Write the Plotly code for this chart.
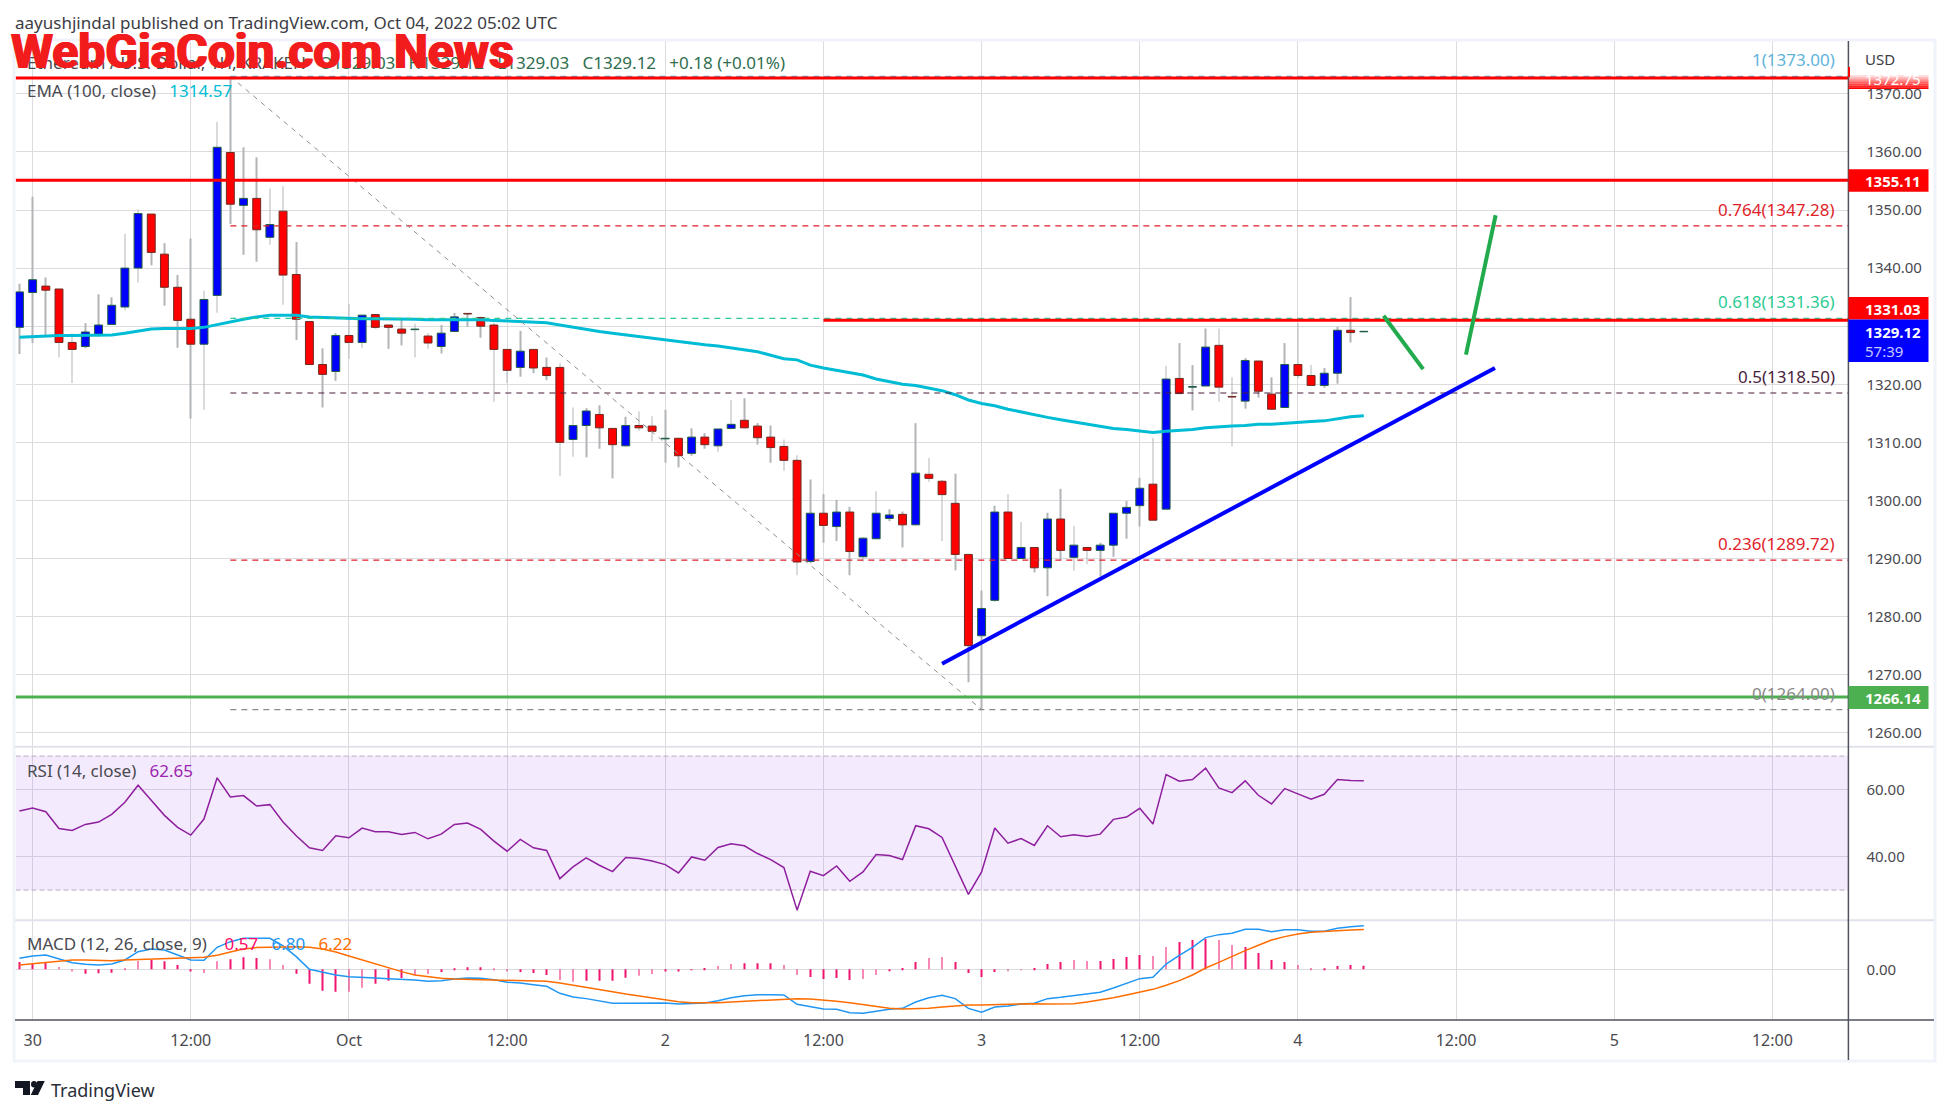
import pandas as pd
import plotly.graph_objects as go

W = 1950
H = 1115
FONT = "Noto Sans"
TXT = "#4a4a50"

# hourly bars, Sep 29 23:00 -> Oct 4 05:00
times = pd.date_range("2022-09-29 23:00", periods=103, freq="h")

opens = [1329.8, 1335.8, 1336.9, 1336.4, 1327.2, 1326.5, 1328.6, 1330.3, 1333.3, 1340.0,
         1349.3, 1342.4, 1336.7, 1331.2, 1326.9, 1335.3, 1359.9, 1350.8, 1352.0, 1345.3,
         1349.8, 1338.9, 1330.8, 1323.4, 1322.2, 1328.4, 1327.2, 1332.0, 1330.2, 1329.5,
         1329.4, 1328.3, 1326.5, 1329.1, 1332.2, 1331.5, 1330.2, 1326.0, 1322.9, 1326.0,
         1322.9, 1322.9, 1310.5, 1312.9, 1314.8, 1312.4, 1309.4, 1312.9, 1312.8, 1310.6,
         1310.7, 1308.1, 1310.9, 1309.4, 1312.4, 1313.8, 1312.8, 1310.9, 1309.3, 1306.9,
         1289.5, 1297.8, 1295.5, 1298.0, 1290.3, 1293.4, 1296.9, 1297.6, 1295.8, 1304.5,
         1303.3, 1299.5, 1290.7, 1276.7, 1282.8, 1298.0, 1290.0, 1291.9, 1288.4, 1296.8,
         1290.2, 1291.9, 1291.4, 1292.3, 1297.8, 1299.1, 1302.8, 1298.5, 1321.0, 1319.5,
         1319.7, 1326.7, 1317.9, 1317.1, 1324.0, 1318.3, 1316.0, 1323.4, 1321.5, 1319.8,
         1321.9, 1329.3, 1329.03]
highs = [1337.3, 1352.3, 1338.4, 1336.4, 1328.8, 1330.5, 1335.5, 1335.0, 1345.9, 1350.1,
         1349.3, 1344.3, 1338.8, 1345.1, 1336.1, 1365.2, 1373.0, 1360.8, 1359.1, 1353.7,
         1354.1, 1344.5, 1330.8, 1326.2, 1328.8, 1333.8, 1331.9, 1332.0, 1330.2, 1331.2,
         1330.4, 1328.8, 1330.2, 1332.3, 1332.2, 1331.6, 1330.6, 1326.0, 1329.2, 1326.0,
         1324.6, 1323.6, 1316.0, 1315.9, 1316.4, 1312.4, 1314.4, 1315.3, 1314.5, 1315.6,
         1310.7, 1312.4, 1311.6, 1312.3, 1317.3, 1317.6, 1313.3, 1312.9, 1310.5, 1307.8,
         1303.6, 1301.1, 1300.1, 1298.9, 1293.7, 1301.6, 1298.5, 1298.1, 1313.3, 1307.3,
         1303.5, 1304.6, 1290.7, 1284.5, 1299.1, 1301.1, 1296.3, 1291.9, 1297.9, 1302.0,
         1295.6, 1291.9, 1292.7, 1297.8, 1299.9, 1303.9, 1310.8, 1323.2, 1327.1, 1323.3,
         1329.6, 1329.6, 1321.2, 1324.5, 1324.0, 1321.2, 1327.1, 1330.5, 1323.3, 1322.8,
         1329.9, 1335.0, 1329.12]
lows = [1325.2, 1327.1, 1328.5, 1324.6, 1320.2, 1326.2, 1328.2, 1330.2, 1332.7, 1337.5,
        1340.5, 1333.5, 1326.3, 1314.1, 1315.6, 1332.3, 1347.6, 1342.3, 1341.1, 1344.0,
        1333.7, 1327.6, 1323.4, 1316.0, 1320.6, 1324.4, 1326.3, 1329.6, 1326.1, 1326.7,
        1324.6, 1326.1, 1325.3, 1329.0, 1329.9, 1328.0, 1317.0, 1320.2, 1321.3, 1321.9,
        1320.7, 1304.2, 1307.5, 1307.4, 1308.9, 1303.8, 1309.3, 1312.0, 1310.2, 1306.5,
        1305.7, 1307.7, 1308.9, 1308.4, 1312.2, 1312.5, 1309.6, 1306.5, 1305.1, 1287.1,
        1289.2, 1292.7, 1293.0, 1287.1, 1289.5, 1293.3, 1296.4, 1291.9, 1295.8, 1303.2,
        1293.0, 1288.0, 1268.7, 1264.0, 1282.6, 1290.0, 1289.9, 1287.6, 1283.5, 1289.8,
        1287.9, 1289.0, 1286.9, 1290.3, 1293.4, 1295.5, 1296.6, 1298.5, 1318.4, 1315.5,
        1319.7, 1317.0, 1309.3, 1315.8, 1317.7, 1315.7, 1316.0, 1321.0, 1319.8, 1319.4,
        1320.1, 1327.2, 1329.03]
closes = [1335.9, 1338.0, 1336.2, 1327.2, 1326.0, 1329.0, 1330.2, 1333.6, 1340.0, 1349.4,
          1342.7, 1336.7, 1331.0, 1326.9, 1334.6, 1360.8, 1351.0, 1352.0, 1346.6, 1347.5,
          1338.8, 1331.2, 1323.4, 1321.7, 1328.4, 1327.2, 1331.9, 1329.8, 1329.8, 1328.8,
          1329.5, 1327.1, 1328.8, 1331.6, 1332.1, 1330.0, 1326.0, 1322.4, 1325.7, 1322.8,
          1321.5, 1310.0, 1312.9, 1315.4, 1312.5, 1309.6, 1312.9, 1312.5, 1311.9, 1310.7,
          1307.7, 1310.9, 1309.6, 1312.3, 1313.1, 1312.5, 1310.8, 1309.1, 1306.9, 1289.4,
          1297.8, 1295.7, 1298.0, 1291.2, 1293.5, 1297.8, 1297.5, 1295.8, 1304.7, 1303.8,
          1301.0, 1290.7, 1275.0, 1281.4, 1298.0, 1290.0, 1291.9, 1288.4, 1296.8, 1291.4,
          1292.3, 1291.4, 1292.3, 1297.8, 1298.8, 1302.1, 1296.6, 1320.9, 1318.4, 1319.6,
          1326.4, 1319.5, 1317.8, 1324.1, 1318.8, 1315.7, 1323.4, 1321.5, 1319.8, 1321.9,
          1329.3, 1328.9, 1329.12]
ema_100 = [1328.1, 1328.2, 1328.4, 1328.4, 1328.4, 1328.4, 1328.4, 1328.5, 1328.8, 1329.1,
           1329.5, 1329.6, 1329.6, 1329.6, 1329.8, 1330.3, 1330.8, 1331.2, 1331.6, 1331.9,
           1331.9, 1331.9, 1331.6, 1331.5, 1331.5, 1331.4, 1331.3, 1331.3, 1331.3, 1331.2,
           1331.2, 1331.1, 1331.1, 1331.2, 1331.2, 1331.1, 1331.0, 1330.9, 1330.8, 1330.7,
           1330.6, 1330.2, 1329.8, 1329.5, 1329.1, 1328.8, 1328.5, 1328.2, 1328.0, 1327.7,
           1327.4, 1327.1, 1326.8, 1326.6, 1326.3, 1326.0, 1325.6, 1325.0, 1324.4, 1324.2,
           1323.3, 1322.8, 1322.4, 1321.9, 1321.6, 1320.9, 1320.5, 1320.0, 1319.8, 1319.4,
           1318.9, 1318.2, 1317.3, 1316.7, 1316.3, 1315.7, 1315.2, 1314.7, 1314.3, 1313.9,
           1313.5, 1313.1, 1312.7, 1312.4, 1312.2, 1311.9, 1311.7, 1311.9, 1312.0, 1312.2,
           1312.5, 1312.7, 1312.8, 1312.9, 1313.1, 1313.1, 1313.3, 1313.4, 1313.6, 1313.7,
           1314.1, 1314.4, 1314.57]
rsi = [53.6, 54.5, 53.4, 48.4, 47.8, 49.6, 50.3, 52.6, 56.2, 61.3,
       56.8, 52.3, 48.7, 46.4, 51.2, 63.5, 57.8, 58.2, 55.1, 55.5,
       50.3, 46.2, 42.6, 41.8, 46.2, 45.6, 48.5, 47.4, 47.4, 46.6,
       47.2, 45.3, 46.7, 49.6, 50.0, 48.1, 44.6, 41.6, 45.1, 42.6,
       41.8, 33.4, 36.9, 39.6, 37.4, 35.5, 39.7, 39.4, 38.7, 37.6,
       35.1, 39.9, 38.9, 42.7, 43.8, 43.2, 40.9, 39.1, 36.7, 24.0,
       35.6, 34.3, 37.2, 32.6, 35.4, 40.6, 40.3, 39.1, 49.2, 48.3,
       45.7, 37.4, 28.7, 35.4, 48.5, 44.0, 45.4, 43.3, 49.2, 45.9,
       46.5, 46.0, 46.7, 51.1, 51.8, 54.4, 49.7, 64.5, 62.5, 63.0,
       66.4, 60.5, 59.1, 62.6, 58.3, 55.7, 60.3, 58.7, 57.1, 58.6,
       63.0, 62.7, 62.65]
macd_hist = [1.15, 0.89, 1.15, 0.36, -0.36, -0.68, -0.63, -0.52, 0.21, 1.30,
             1.46, 1.25, 0.68, -0.36, -0.57, 1.25, 1.56, 1.88, 1.77, 1.56,
             0.68, -0.68, -2.24, -3.33, -3.49, -3.49, -2.87, -2.24, -1.77, -1.35,
             -0.94, -0.73, -0.42, 0.05, 0.31, 0.31, 0.10, -0.36, -0.42, -0.57,
             -0.89, -1.67, -1.93, -1.77, -1.77, -1.77, -1.30, -0.99, -0.73, -0.36,
             -0.36, -0.05, 0.21, 0.52, 0.83, 0.94, 0.94, 0.94, 0.68, -0.89,
             -1.20, -1.51, -1.35, -1.67, -1.51, -0.89, -0.26, 0.21, 1.15, 1.77,
             1.93, 1.15, -0.57, -1.20, -0.42, -0.26, -0.10, 0.21, 0.83, 1.15,
             1.46, 1.30, 1.30, 1.62, 1.93, 2.24, 2.08, 3.49, 4.27, 4.58,
             4.74, 4.58, 3.80, 3.49, 2.55, 1.46, 1.15, 0.68, 0.21, 0.05,
             0.52, 0.68, 0.57]
macd_line = [1.72, 2.08, 2.24, 1.62, 1.04, 0.78, 0.68, 0.83, 1.46, 2.76,
             3.18, 3.02, 2.24, 1.46, 1.41, 3.44, 4.32, 4.85, 4.85, 4.85,
             3.65, 1.98, 0.00, -0.47, -0.89, -1.15, -1.20, -1.35, -1.46, -1.56,
             -1.67, -1.88, -1.77, -1.51, -1.35, -1.41, -1.62, -2.03, -2.14, -2.40,
             -2.66, -3.75, -4.32, -4.58, -4.95, -5.31, -5.31, -5.31, -5.26, -5.26,
             -5.42, -5.31, -5.26, -4.90, -4.43, -4.12, -3.96, -3.96, -4.01, -5.47,
             -5.84, -6.20, -6.25, -6.77, -6.88, -6.56, -6.25, -6.10, -5.11, -4.43,
             -4.06, -4.58, -6.10, -6.72, -5.89, -5.73, -5.42, -5.31, -4.58, -4.38,
             -4.12, -3.86, -3.59, -2.92, -2.24, -1.46, -1.25, 0.83, 2.19, 3.44,
             4.95, 5.42, 5.63, 6.25, 6.25, 5.89, 6.20, 6.20, 5.94, 5.94,
             6.41, 6.67, 6.80]
macd_signal = [0.68, 0.89, 1.15, 1.30, 1.46, 1.46, 1.41, 1.35, 1.46, 1.51,
               1.62, 1.67, 1.72, 1.82, 1.88, 2.19, 2.71, 3.18, 3.39, 3.49,
               3.49, 3.54, 3.44, 3.18, 2.71, 2.08, 1.46, 0.83, 0.26, -0.36,
               -0.89, -1.20, -1.41, -1.51, -1.56, -1.56, -1.62, -1.72, -1.77, -1.82,
               -1.88, -2.14, -2.45, -2.76, -3.13, -3.49, -3.86, -4.17, -4.53, -4.85,
               -5.05, -5.21, -5.26, -5.21, -5.11, -5.00, -4.85, -4.74, -4.58, -4.58,
               -4.64, -4.79, -5.00, -5.21, -5.52, -5.84, -6.10, -6.20, -6.20, -6.10,
               -5.89, -5.73, -5.57, -5.57, -5.52, -5.42, -5.37, -5.37, -5.42, -5.42,
               -5.37, -5.11, -4.79, -4.43, -4.01, -3.59, -3.13, -2.50, -1.77, -0.89,
               0.21, 1.09, 2.03, 2.92, 3.75, 4.58, 5.11, 5.52, 5.78, 5.94,
               6.04, 6.15, 6.22]

x_start = "2022-09-29 22:42"
x_end = "2022-10-05 17:46"

x_ticks = ["2022-09-30 00:00", "2022-09-30 12:00", "2022-10-01 00:00", "2022-10-01 12:00",
           "2022-10-02 00:00", "2022-10-02 12:00", "2022-10-03 00:00", "2022-10-03 12:00",
           "2022-10-04 00:00", "2022-10-04 12:00", "2022-10-05 00:00", "2022-10-05 12:00"]
x_labels = ["30", "12:00", "Oct", "12:00", "2", "12:00", "3", "12:00", "4", "12:00", "5", "12:00"]
price_ticks = [1260, 1270, 1280, 1290, 1300, 1310, 1320, 1330, 1340, 1350, 1360, 1370]
# 1330 sits behind the axis tags, gridline only
price_labels = ["1260.00", "1270.00", "1280.00", "1290.00", "1300.00", "1310.00", "1320.00", "",
                "1340.00", "1350.00", "1360.00", "1370.00"]

fib_levels = [1373.00, 1347.28, 1331.36, 1318.50, 1289.72, 1264.00]
fib_labels = ["1(1373.00)", "0.764(1347.28)", "0.618(1331.36)", "0.5(1318.50)", "0.236(1289.72)", "0(1264.00)"]
fib_colors = ["#5fb3dc", "#e01f2b", "#2ecb95", "#4b1e3c", "#e01f2b", "#8a8a8a"]
fib_start = "2022-09-30 15:00"
fib_end_time = "2022-10-03 00:00"

# hand drawn lines on the chart
trend_x = ["2022-10-02 21:00", "2022-10-04 14:57"]
trend_y = [1271.9, 1322.8]
arrow1_x = ["2022-10-04 06:30", "2022-10-04 09:30"]
arrow1_y = [1331.8, 1322.6]
arrow2_x = ["2022-10-04 12:45", "2022-10-04 15:00"]
arrow2_y = [1325.1, 1349.1]


# page pixels -> paper coords
def px(v):
    return v / W


def py(v):
    return 1 - v / H


bar_ms = 3600000
ups = [c >= o for o, c in zip(opens, closes)]
body_base = [min(o, c) for o, c in zip(opens, closes)]
body_size = [abs(c - o) for o, c in zip(opens, closes)]
body_fill = ["#0000ff" if u else "#ff0000" for u in ups]
body_edge = ["#1f5f3f" if u else "#6e2a20" for u in ups]

fig = go.Figure()

# wicks are thin bars so the bodies can sit on top of them
fig.add_trace(go.Bar(x=times, base=lows, y=[h - l for h, l in zip(highs, lows)],
                     width=int(bar_ms * 0.05), marker=dict(color="#b2b5b8", line=dict(width=0)),
                     hoverinfo="skip", xaxis="x", yaxis="y"))
fig.add_trace(go.Bar(x=times, base=body_base, y=body_size, width=int(bar_ms * 0.6),
                     marker=dict(color=body_fill, line=dict(color=body_edge, width=1)),
                     hoverinfo="skip", xaxis="x", yaxis="y"))
fig.add_trace(go.Scatter(x=times, y=ema_100, mode="lines", line=dict(color="#00bcd4", width=3),
                         hoverinfo="skip", xaxis="x", yaxis="y"))

for lev, col in zip(fib_levels, fib_colors):
    fig.add_trace(go.Scatter(x=[fib_start, x_end], y=[lev, lev], mode="lines",
                             line=dict(color=col, width=1.2, dash="6px,5px"),
                             hoverinfo="skip", xaxis="x", yaxis="y"))
fig.add_trace(go.Scatter(x=[fib_start, fib_end_time], y=[fib_levels[0], fib_levels[-1]], mode="lines",
                         line=dict(color="#8f8f8f", width=1, dash="5px,5px"),
                         hoverinfo="skip", xaxis="x", yaxis="y"))

fig.add_trace(go.Scatter(x=[x_start, x_end], y=[1372.75, 1372.75], mode="lines",
                         line=dict(color="#ff0000", width=3), hoverinfo="skip", xaxis="x", yaxis="y"))
fig.add_trace(go.Scatter(x=[x_start, x_end], y=[1355.11, 1355.11], mode="lines",
                         line=dict(color="#ff0000", width=3), hoverinfo="skip", xaxis="x", yaxis="y"))
fig.add_trace(go.Scatter(x=["2022-10-02 12:00", x_end], y=[1331.03, 1331.03], mode="lines",
                         line=dict(color="#ff0000", width=3), hoverinfo="skip", xaxis="x", yaxis="y"))
fig.add_trace(go.Scatter(x=[x_start, x_end], y=[1266.14, 1266.14], mode="lines",
                         line=dict(color="#4caf50", width=3), hoverinfo="skip", xaxis="x", yaxis="y"))
fig.add_trace(go.Scatter(x=trend_x, y=trend_y, mode="lines", line=dict(color="#0000ff", width=4),
                         hoverinfo="skip", xaxis="x", yaxis="y"))
fig.add_trace(go.Scatter(x=arrow1_x, y=arrow1_y, mode="lines",
                         line=dict(color="#22ab4d", width=4), hoverinfo="skip", xaxis="x", yaxis="y"))
fig.add_trace(go.Scatter(x=arrow2_x, y=arrow2_y, mode="lines",
                         line=dict(color="#22ab4d", width=4), hoverinfo="skip", xaxis="x", yaxis="y"))

fig.add_trace(go.Scatter(x=times, y=rsi, mode="lines", line=dict(color="#8e1f9e", width=1.5),
                         hoverinfo="skip", xaxis="x2", yaxis="y2"))

fig.add_trace(go.Bar(x=times, y=macd_hist, width=int(bar_ms * 0.05),
                     marker=dict(color="#f0146e", line=dict(width=0)),
                     hoverinfo="skip", xaxis="x3", yaxis="y3"))
fig.add_trace(go.Scatter(x=times, y=macd_line, mode="lines", line=dict(color="#2196f3", width=1.5),
                         hoverinfo="skip", xaxis="x3", yaxis="y3"))
fig.add_trace(go.Scatter(x=times, y=macd_signal, mode="lines", line=dict(color="#ff6d00", width=1.5),
                         hoverinfo="skip", xaxis="x3", yaxis="y3"))

GRID = "#dcdce0"
x_common = dict(type="date", range=[x_start, x_end], domain=[px(15.5), px(1848.4)],
                tickmode="array", tickvals=x_ticks, ticktext=x_labels,
                showgrid=True, gridcolor=GRID, gridwidth=1, zeroline=False, showline=False)
y_common = dict(side="right", showgrid=True, gridcolor=GRID, gridwidth=1, zeroline=False,
                showline=False, ticks="outside", ticklen=14,
                tickcolor="rgba(0,0,0,0)", tickfont=dict(family=FONT, size=15, color=TXT))

fig.update_layout(
    width=W, height=H, margin=dict(l=0, r=0, t=0, b=0), paper_bgcolor="white", plot_bgcolor="white",
    showlegend=False, barmode="overlay", font=dict(family=FONT, size=15, color=TXT),
    xaxis=dict(anchor="y", showticklabels=False, **x_common),
    xaxis2=dict(anchor="y2", matches="x", showticklabels=False, **x_common),
    xaxis3=dict(anchor="y3", matches="x", showticklabels=True, ticks="outside", ticklen=6,
                tickcolor="rgba(0,0,0,0)", tickfont=dict(family=FONT, size=16, color=TXT), **x_common),
    yaxis=dict(anchor="x", domain=[py(746.7), py(41)], range=[1257.6, 1379.1], tickmode="array",
               tickvals=price_ticks, ticktext=price_labels, **y_common),
    yaxis2=dict(anchor="x2", domain=[py(920.3), py(746.7)], range=[20.97, 72.8], tickmode="array",
                tickvals=[40, 60], ticktext=["40.00", "60.00"], **y_common),
    yaxis3=dict(anchor="x3", domain=[py(1020), py(920.3)], range=[-7.92, 7.66], tickmode="array",
                tickvals=[0], ticktext=["0.00"], **y_common),
)

shapes = []


def hline_px(y, x0, x1, color, width=1.5):
    shapes.append(dict(type="line", xref="paper", yref="paper", x0=px(x0), x1=px(x1), y0=py(y), y1=py(y),
                       line=dict(color=color, width=width)))


def vline_px(x, y0, y1, color, width=1.5):
    shapes.append(dict(type="line", xref="paper", yref="paper", x0=px(x), x1=px(x), y0=py(y0), y1=py(y1),
                       line=dict(color=color, width=width)))


def box_px(x0, y0, x1, y1, color):
    shapes.append(dict(type="rect", xref="paper", yref="paper", x0=px(x0), x1=px(x1), y0=py(y0), y1=py(y1),
                       fillcolor=color, line=dict(width=0)))


# rsi band
shapes.append(dict(type="rect", xref="x2", yref="y2", x0=x_start, x1=x_end, y0=30, y1=70, layer="between",
                   fillcolor="rgba(155,60,240,0.11)", line=dict(width=0)))
for lev in [70, 30]:
    shapes.append(dict(type="line", xref="x2", yref="y2", x0=x_start, x1=x_end, y0=lev, y1=lev, layer="between",
                       line=dict(color="#b9aec4", width=1, dash="5px,3px")))

# outer frame, pane separators, axes
shapes.append(dict(type="rect", xref="paper", yref="paper", x0=px(14), x1=px(1935), y0=py(1061), y1=py(40),
                   line=dict(color="#f0f3fa", width=3)))
hline_px(746.7, 15, 1934, "#e0e3eb", 2)
hline_px(920.3, 15, 1934, "#e0e3eb", 2)
hline_px(1020, 15, 1934, "#50535e", 1.5)
vline_px(1848.4, 41, 1060, "#50535e", 1.5)

# price tags on the axis
for k in range(8):
    a = (k + 1) / 8
    box_px(1848.5, 75 + k * 1.75, 1928.5, 76.75 + k * 1.75, f"rgba(255,0,0,{a:.2f})")
vline_px(1849, 67, 77, "#ff0000", 2)
box_px(1848.5, 169.3, 1928.5, 191.7, "#ff0000")
box_px(1848.5, 297, 1928.5, 319.5, "#ff0000")
box_px(1848.5, 319.5, 1928.5, 362, "#0000ff")
box_px(1848.5, 686, 1928.5, 709, "#4caf50")

# TradingView logo
logo_t = "M15,1081 L30,1081 L30,1095 L23,1095 L23,1088 L15,1088 Z"
logo_v = "M37.5,1081 L44.8,1081 L38,1095 L30.8,1095 Z"


def logo_path(path):
    out = []
    for tok in path.split():
        if tok == "Z":
            out.append("Z")
        else:
            a, b = tok[1:].split(",")
            out.append(f"{tok[0]}{px(float(a)):.5f},{py(float(b)):.5f}")
    return " ".join(out)


for p in [logo_t, logo_v]:
    shapes.append(dict(type="path", xref="paper", yref="paper", path=logo_path(p), fillcolor="#131722",
                       line=dict(width=0)))
shapes.append(dict(type="circle", xref="paper", yref="paper", x0=px(31), x1=px(37), y0=py(1087.5), y1=py(1081),
                   fillcolor="#131722", line=dict(width=0)))

fig.update_layout(shapes=shapes)

annos = []


def label_px(x, y, text, size=15, color=TXT, anchor="left", **kw):
    annos.append(dict(xref="paper", yref="paper", x=px(x), y=py(y), text=text, showarrow=False,
                      xanchor=anchor, yanchor="middle", borderpad=0,
                      font=dict(family=kw.pop("family", FONT), size=size, color=color, **kw)))


GAP = "\u00a0\u00a0\u00a0"
label_px(14, 23, "aayushjindal published on TradingView.com, Oct 04, 2022 05:02 UTC", 17, "#3c3c44")

val = "#2f6e4f"
label_px(26, 63, f"Ethereum / U.S. Dollar, 1H, KRAKEN{GAP}"
         f'<span style="color:{val}">O1329.03{GAP}H1329.12{GAP}L1329.03{GAP}C1329.12{GAP}+0.18 (+0.01%)</span>', 17)
label_px(26, 90, f'EMA (100, close){GAP}<span style="color:#00bcd4">1314.57</span>', 17)
label_px(26, 770, f'RSI (14, close){GAP}<span style="color:#9c27b0">62.65</span>', 17)
label_px(26, 943, f'MACD (12, 26, close, 9){GAP}\u00a0<span style="color:#ff0a6c">0.57</span>{GAP}'
         f'<span style="color:#2196f3">6.80</span>{GAP}<span style="color:#ff6d00">6.22</span>', 17)

for lev, lab, col in zip(fib_levels, fib_labels, fib_colors):
    annos.append(dict(xref="paper", yref="y", x=px(1836), y=lev, text=lab, showarrow=False, xanchor="right",
                      yanchor="bottom", yshift=4, borderpad=0, font=dict(family=FONT, size=17, color=col)))

label_px(1864, 59, "USD", 15, "#3c3c44")
label_px(1864, 79, "1372.75", 15, "#ffffff")
label_px(1864, 181, "1355.11", 15, "#ffffff", weight="bold")
label_px(1864, 309, "1331.03", 15, "#ffffff", weight="bold")
label_px(1864, 332, "1329.12", 15, "#ffffff", weight="bold")
label_px(1864, 351, "57:39", 15, "#c8c8ff")
label_px(1864, 698, "1266.14", 15, "#ffffff", weight="bold")

label_px(50, 1090, "TradingView", 18, "#2a2e39")

# site watermark over the header
label_px(10, 52, "WebGiaCoin.com News", 48, "#f21c1c", family="Roboto", weight="bold",
         shadow="1px 0 #f21c1c, -1px 0 #f21c1c")

fig.update_layout(annotations=annos)

fig.write_html("out.html", config={"displayModeBar": False},
               post_script="document.body.style.margin='0';document.body.style.overflow='hidden';")
